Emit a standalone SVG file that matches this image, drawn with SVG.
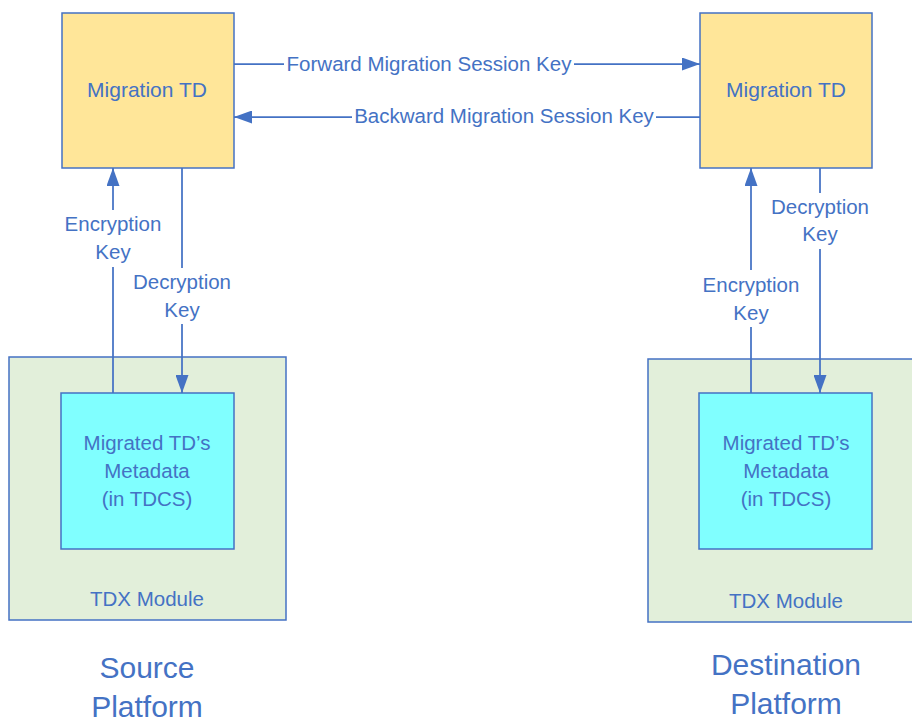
<svg xmlns="http://www.w3.org/2000/svg" width="912" height="722" viewBox="0 0 912 722">
<style>
.td{fill:#FFE699;stroke:#4472C4;stroke-width:1.5}
.mod{fill:#E2EFDA;stroke:#4472C4;stroke-width:1.5}
.meta{fill:#80FFFF;stroke:#4472C4;stroke-width:1.5}
.t{font-family:"Liberation Sans",Arial,sans-serif;fill:#4472C4;text-anchor:middle}
.s{font-size:20.5px}
.b{font-size:21px}
.p{font-size:30px}
.c{fill:none;stroke:#4472C4;stroke-width:1.75}
</style>
<defs>
<marker id="ah" markerUnits="userSpaceOnUse" markerWidth="18" markerHeight="13" refX="18" refY="6.5" orient="auto">
<path d="M0,0 L18,6.5 L0,13 z" fill="#4472C4"/>
</marker>
</defs>
<rect width="912" height="722" fill="#FFFFFF"/>
<g id="src-module">
<rect class="mod" x="9" y="357" width="277" height="263"/>
<text class="t s" x="147" y="606">TDX Module</text>
</g>
<g id="dst-module">
<rect class="mod" x="648" y="359" width="280" height="263"/>
<text class="t s" x="786" y="608">TDX Module</text>
</g>
<g id="src-td">
<rect class="td" x="62" y="13" width="172" height="155"/>
<text class="t b" x="147" y="97">Migration TD</text>
</g>
<g id="dst-td">
<rect class="td" x="700" y="13" width="172" height="155"/>
<text class="t b" x="786" y="97">Migration TD</text>
</g>
<g id="src-meta">
<rect class="meta" x="61" y="393" width="173" height="156"/>
<text class="t s" x="147" y="450">Migrated TD’s</text>
<text class="t s" x="147" y="478">Metadata</text>
<text class="t s" x="147" y="506">(in TDCS)</text>
</g>
<g id="dst-meta">
<rect class="meta" x="699" y="393" width="173" height="156"/>
<text class="t s" x="786" y="450">Migrated TD’s</text>
<text class="t s" x="786" y="478">Metadata</text>
<text class="t s" x="786" y="506">(in TDCS)</text>
</g>
<g id="src-label">
<text class="t p" x="147" y="678">Source</text>
<text class="t p" x="147" y="717">Platform</text>
</g>
<g id="dst-label">
<text class="t p" x="786" y="675">Destination</text>
<text class="t p" x="786" y="714">Platform</text>
</g>
<g id="connectors">
<path class="c" d="M234,64 H284"/>
<path class="c" d="M574,64 H700" marker-end="url(#ah)"/>
<text class="t s" x="429" y="71">Forward Migration Session Key</text>
<path class="c" d="M700,117 H656"/>
<path class="c" d="M352,117 H234" marker-end="url(#ah)"/>
<text class="t s" x="504" y="123">Backward Migration Session Key</text>
<path class="c" d="M113,393 V267"/>
<path class="c" d="M113,210 V168" marker-end="url(#ah)"/>
<text class="t s" x="113" y="231">Encryption</text>
<text class="t s" x="113" y="259">Key</text>
<path class="c" d="M182,168 V268"/>
<path class="c" d="M182,324 V393" marker-end="url(#ah)"/>
<text class="t s" x="182" y="289">Decryption</text>
<text class="t s" x="182" y="317">Key</text>
<path class="c" d="M751,393 V327"/>
<path class="c" d="M751,270 V168" marker-end="url(#ah)"/>
<text class="t s" x="751" y="292">Encryption</text>
<text class="t s" x="751" y="320">Key</text>
<path class="c" d="M820,168 V193"/>
<path class="c" d="M820,249 V393" marker-end="url(#ah)"/>
<text class="t s" x="820" y="214">Decryption</text>
<text class="t s" x="820" y="241">Key</text>
</g>
</svg>
